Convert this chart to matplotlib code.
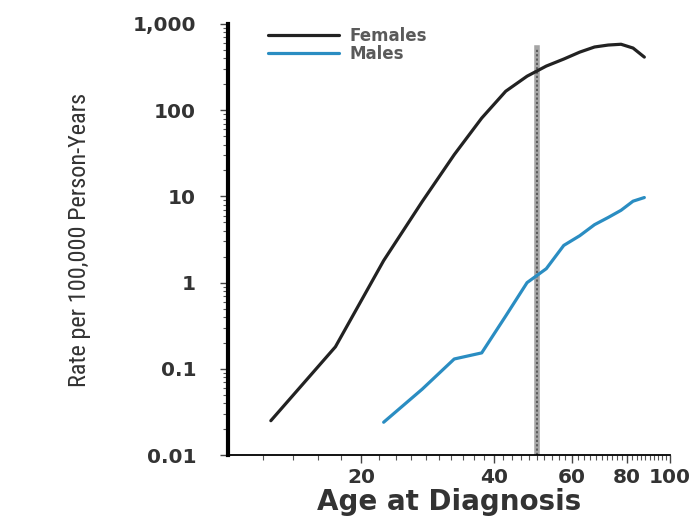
import matplotlib
matplotlib.use("Agg")
import matplotlib.pyplot as plt
from matplotlib import font_manager
from matplotlib.ticker import FixedLocator, FuncFormatter, LogLocator, NullFormatter

# age group midpoints (years) and incidence per 100,000 person-years
female_age = [12.5, 17.5, 22.5, 27.5, 32.5, 37.5, 42.5, 47.5, 52.5, 57.5,
              62.5, 67.5, 72.5, 77.5, 82.5, 87.5]
female_rate = [0.025, 0.18, 1.8, 8.7, 30.5, 81, 166, 248, 325, 392,
               472, 541, 570, 582, 526, 413]

male_age = [22.5, 27.5, 32.5, 37.5, 42.5, 47.5, 52.5, 57.5,
            62.5, 67.5, 72.5, 77.5, 82.5, 87.5]
male_rate = [0.024, 0.058, 0.13, 0.153, 0.41, 1.0, 1.45, 2.7,
             3.5, 4.7, 5.7, 6.9, 8.8, 9.7]

x_ticks = [20, 40, 60, 80, 100]
y_ticks = [0.01, 0.1, 1, 10, 100, 1000]
y_labels = ["0.01", "0.1", "1", "10", "100", "1,000"]
cutoff_age = 50

# narrow face for the rotated y label, if one is installed
installed = {f.name for f in font_manager.fontManager.ttflist}
narrow = next((n for n in ["Liberation Sans Narrow", "DejaVu Sans Condensed",
                           "Roboto Condensed", "Open Sans Condensed"]
               if n in installed), None)

fig = plt.figure(figsize=(6.96, 5.16), dpi=100)
ax = fig.add_axes([0.3276, 0.1182, 0.635, 0.8353])

ax.plot(female_age, female_rate, color="#222222", lw=2.3, label="Females",
        solid_capstyle="round")
ax.plot(male_age, male_rate, color="#2a8dc2", lw=2.3, label="Males",
        solid_capstyle="round")

# vertical marker at age 50
ax.axvline(cutoff_age, ymax=0.944, color="#a5a5a5", lw=4.0, zorder=1)
ax.axvline(cutoff_age, ymax=0.944, color="#555555", lw=1.3,
           dashes=(1.2, 1.2), zorder=1)

ax.set_xscale("log")
ax.set_yscale("log")
ax.set_xlim(10, 100)
ax.set_ylim(0.01, 1000)

ax.xaxis.set_major_locator(FixedLocator(x_ticks))
ax.xaxis.set_major_formatter(FuncFormatter(lambda v, p: f"{int(v)}"))
ax.xaxis.set_minor_locator(FixedLocator(list(range(12, 100, 2))))
ax.xaxis.set_minor_formatter(NullFormatter())

ax.yaxis.set_major_locator(FixedLocator(y_ticks))
ax.set_yticklabels(y_labels)
ax.yaxis.set_minor_locator(LogLocator(base=10, subs=range(2, 10)))
ax.yaxis.set_minor_formatter(NullFormatter())

for side in ["top", "right"]:
    ax.spines[side].set_visible(False)
ax.spines["left"].set_linewidth(3.0)
ax.spines["bottom"].set_linewidth(1.3)

ax.tick_params(axis="both", which="major", length=6, width=1.0,
               color="#444444", labelcolor="#333333", labelsize=14.5)
ax.tick_params(axis="y", which="major", pad=17)
ax.tick_params(axis="x", which="major", pad=3)
ax.tick_params(axis="both", which="minor", length=3.5, width=0.8,
               color="#555555")
for lbl in ax.get_xticklabels() + ax.get_yticklabels():
    lbl.set_fontweight("bold")

ax.set_xlabel("Age at Diagnosis", fontsize=20, fontweight="bold",
              color="#333333", labelpad=1)
if narrow:
    ax.set_ylabel("Rate per 100,000 Person-Years", fontsize=17.5,
                  family=narrow, color="#333333", labelpad=30)
else:
    ax.set_ylabel("Rate per 100,000 Person-Years", fontsize=14,
                  color="#333333", labelpad=34)

leg = ax.legend(loc="upper left", bbox_to_anchor=(0.056, 1.028),
                frameon=False, handlelength=4.3, handletextpad=0.6,
                labelspacing=0.0, prop={"size": 12, "weight": "bold"})
for t in leg.get_texts():
    t.set_color("#5a5a5a")

fig.savefig("out.png", dpi=100)
